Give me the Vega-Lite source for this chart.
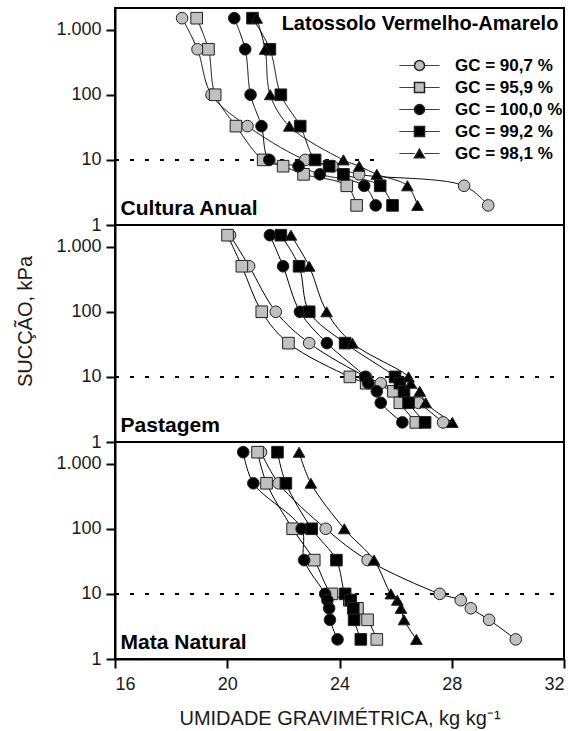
{
  "$schema": "https://vega.github.io/schema/vega-lite/v6.json",
  "padding": {"left": 14, "top": 7, "right": 5, "bottom": 0},
  "bounds": "flush",
  "config": {
    "font": "Liberation Sans",
    "view": {"stroke": "black", "strokeWidth": 2},
    "axis": {
      "grid": false,
      "domainColor": "black",
      "domainWidth": 2,
      "tickColor": "black",
      "tickWidth": 2,
      "tickSize": 9,
      "labelFontSize": 18,
      "labelColor": "#1a1a1a",
      "labelPadding": 5,
      "titleFontWeight": "normal",
      "titleFontSize": 20,
      "titleColor": "#1a1a1a"
    }
  },
  "datasets": {
    "pts": [
      {"panel": "Cultura Anual", "gc": "GC = 90,7 %", "s": 1500, "w": 18.39},
      {"panel": "Cultura Anual", "gc": "GC = 90,7 %", "s": 500, "w": 18.94},
      {"panel": "Cultura Anual", "gc": "GC = 90,7 %", "s": 100, "w": 19.44},
      {"panel": "Cultura Anual", "gc": "GC = 90,7 %", "s": 33, "w": 20.72},
      {"panel": "Cultura Anual", "gc": "GC = 90,7 %", "s": 10, "w": 22.78},
      {"panel": "Cultura Anual", "gc": "GC = 90,7 %", "s": 8, "w": 23.75},
      {"panel": "Cultura Anual", "gc": "GC = 90,7 %", "s": 6, "w": 24.70},
      {"panel": "Cultura Anual", "gc": "GC = 90,7 %", "s": 4, "w": 28.44},
      {"panel": "Cultura Anual", "gc": "GC = 90,7 %", "s": 2, "w": 29.30},
      {"panel": "Cultura Anual", "gc": "GC = 95,9 %", "s": 1500, "w": 18.91},
      {"panel": "Cultura Anual", "gc": "GC = 95,9 %", "s": 500, "w": 19.33},
      {"panel": "Cultura Anual", "gc": "GC = 95,9 %", "s": 100, "w": 19.57},
      {"panel": "Cultura Anual", "gc": "GC = 95,9 %", "s": 33, "w": 20.31},
      {"panel": "Cultura Anual", "gc": "GC = 95,9 %", "s": 10, "w": 21.28},
      {"panel": "Cultura Anual", "gc": "GC = 95,9 %", "s": 8, "w": 21.99},
      {"panel": "Cultura Anual", "gc": "GC = 95,9 %", "s": 6, "w": 22.72},
      {"panel": "Cultura Anual", "gc": "GC = 95,9 %", "s": 4, "w": 24.26},
      {"panel": "Cultura Anual", "gc": "GC = 95,9 %", "s": 2, "w": 24.61},
      {"panel": "Cultura Anual", "gc": "GC = 100,0 %", "s": 1500, "w": 20.25},
      {"panel": "Cultura Anual", "gc": "GC = 100,0 %", "s": 500, "w": 20.64},
      {"panel": "Cultura Anual", "gc": "GC = 100,0 %", "s": 100, "w": 20.83},
      {"panel": "Cultura Anual", "gc": "GC = 100,0 %", "s": 33, "w": 21.22},
      {"panel": "Cultura Anual", "gc": "GC = 100,0 %", "s": 10, "w": 21.50},
      {"panel": "Cultura Anual", "gc": "GC = 100,0 %", "s": 8, "w": 22.54},
      {"panel": "Cultura Anual", "gc": "GC = 100,0 %", "s": 6, "w": 23.30},
      {"panel": "Cultura Anual", "gc": "GC = 100,0 %", "s": 4, "w": 24.88},
      {"panel": "Cultura Anual", "gc": "GC = 100,0 %", "s": 2, "w": 25.29},
      {"panel": "Cultura Anual", "gc": "GC = 99,2 %", "s": 1500, "w": 20.90},
      {"panel": "Cultura Anual", "gc": "GC = 99,2 %", "s": 500, "w": 21.52},
      {"panel": "Cultura Anual", "gc": "GC = 99,2 %", "s": 100, "w": 21.91},
      {"panel": "Cultura Anual", "gc": "GC = 99,2 %", "s": 33, "w": 22.60},
      {"panel": "Cultura Anual", "gc": "GC = 99,2 %", "s": 10, "w": 23.13},
      {"panel": "Cultura Anual", "gc": "GC = 99,2 %", "s": 8, "w": 23.63},
      {"panel": "Cultura Anual", "gc": "GC = 99,2 %", "s": 6, "w": 24.14},
      {"panel": "Cultura Anual", "gc": "GC = 99,2 %", "s": 4, "w": 25.45},
      {"panel": "Cultura Anual", "gc": "GC = 99,2 %", "s": 2, "w": 25.89},
      {"panel": "Cultura Anual", "gc": "GC = 98,1 %", "s": 1500, "w": 21.05},
      {"panel": "Cultura Anual", "gc": "GC = 98,1 %", "s": 500, "w": 21.35},
      {"panel": "Cultura Anual", "gc": "GC = 98,1 %", "s": 100, "w": 21.53},
      {"panel": "Cultura Anual", "gc": "GC = 98,1 %", "s": 33, "w": 22.21},
      {"panel": "Cultura Anual", "gc": "GC = 98,1 %", "s": 10, "w": 24.14},
      {"panel": "Cultura Anual", "gc": "GC = 98,1 %", "s": 8, "w": 24.70},
      {"panel": "Cultura Anual", "gc": "GC = 98,1 %", "s": 6, "w": 25.33},
      {"panel": "Cultura Anual", "gc": "GC = 98,1 %", "s": 4, "w": 26.42},
      {"panel": "Cultura Anual", "gc": "GC = 98,1 %", "s": 2, "w": 26.78},

      {"panel": "Pastagem", "gc": "GC = 90,7 %", "s": 1500, "w": 20.10},
      {"panel": "Pastagem", "gc": "GC = 90,7 %", "s": 500, "w": 20.78},
      {"panel": "Pastagem", "gc": "GC = 90,7 %", "s": 100, "w": 21.73},
      {"panel": "Pastagem", "gc": "GC = 90,7 %", "s": 33, "w": 22.92},
      {"panel": "Pastagem", "gc": "GC = 90,7 %", "s": 10, "w": 24.95},
      {"panel": "Pastagem", "gc": "GC = 90,7 %", "s": 8, "w": 25.47},
      {"panel": "Pastagem", "gc": "GC = 90,7 %", "s": 6, "w": 26.10},
      {"panel": "Pastagem", "gc": "GC = 90,7 %", "s": 4, "w": 26.81},
      {"panel": "Pastagem", "gc": "GC = 90,7 %", "s": 2, "w": 27.69},
      {"panel": "Pastagem", "gc": "GC = 95,9 %", "s": 1500, "w": 20.01},
      {"panel": "Pastagem", "gc": "GC = 95,9 %", "s": 500, "w": 20.52},
      {"panel": "Pastagem", "gc": "GC = 95,9 %", "s": 100, "w": 21.23},
      {"panel": "Pastagem", "gc": "GC = 95,9 %", "s": 33, "w": 22.18},
      {"panel": "Pastagem", "gc": "GC = 95,9 %", "s": 10, "w": 24.37},
      {"panel": "Pastagem", "gc": "GC = 95,9 %", "s": 8, "w": 24.95},
      {"panel": "Pastagem", "gc": "GC = 95,9 %", "s": 6, "w": 25.92},
      {"panel": "Pastagem", "gc": "GC = 95,9 %", "s": 4, "w": 26.15},
      {"panel": "Pastagem", "gc": "GC = 95,9 %", "s": 2, "w": 26.72},
      {"panel": "Pastagem", "gc": "GC = 100,0 %", "s": 1500, "w": 21.52},
      {"panel": "Pastagem", "gc": "GC = 100,0 %", "s": 500, "w": 21.99},
      {"panel": "Pastagem", "gc": "GC = 100,0 %", "s": 100, "w": 22.59},
      {"panel": "Pastagem", "gc": "GC = 100,0 %", "s": 33, "w": 23.55},
      {"panel": "Pastagem", "gc": "GC = 100,0 %", "s": 10, "w": 24.91},
      {"panel": "Pastagem", "gc": "GC = 100,0 %", "s": 8, "w": 25.03},
      {"panel": "Pastagem", "gc": "GC = 100,0 %", "s": 6, "w": 25.33},
      {"panel": "Pastagem", "gc": "GC = 100,0 %", "s": 4, "w": 25.47},
      {"panel": "Pastagem", "gc": "GC = 100,0 %", "s": 2, "w": 26.24},
      {"panel": "Pastagem", "gc": "GC = 99,2 %", "s": 1500, "w": 21.91},
      {"panel": "Pastagem", "gc": "GC = 99,2 %", "s": 500, "w": 22.56},
      {"panel": "Pastagem", "gc": "GC = 99,2 %", "s": 100, "w": 22.92},
      {"panel": "Pastagem", "gc": "GC = 99,2 %", "s": 33, "w": 24.20},
      {"panel": "Pastagem", "gc": "GC = 99,2 %", "s": 10, "w": 25.98},
      {"panel": "Pastagem", "gc": "GC = 99,2 %", "s": 8, "w": 26.15},
      {"panel": "Pastagem", "gc": "GC = 99,2 %", "s": 6, "w": 26.30},
      {"panel": "Pastagem", "gc": "GC = 99,2 %", "s": 4, "w": 26.46},
      {"panel": "Pastagem", "gc": "GC = 99,2 %", "s": 2, "w": 27.05},
      {"panel": "Pastagem", "gc": "GC = 98,1 %", "s": 1500, "w": 22.27},
      {"panel": "Pastagem", "gc": "GC = 98,1 %", "s": 500, "w": 22.92},
      {"panel": "Pastagem", "gc": "GC = 98,1 %", "s": 100, "w": 23.54},
      {"panel": "Pastagem", "gc": "GC = 98,1 %", "s": 33, "w": 24.46},
      {"panel": "Pastagem", "gc": "GC = 98,1 %", "s": 10, "w": 26.46},
      {"panel": "Pastagem", "gc": "GC = 98,1 %", "s": 8, "w": 26.54},
      {"panel": "Pastagem", "gc": "GC = 98,1 %", "s": 6, "w": 26.86},
      {"panel": "Pastagem", "gc": "GC = 98,1 %", "s": 4, "w": 27.07},
      {"panel": "Pastagem", "gc": "GC = 98,1 %", "s": 2, "w": 28.02},

      {"panel": "Mata Natural", "gc": "GC = 90,7 %", "s": 1500, "w": 21.20},
      {"panel": "Mata Natural", "gc": "GC = 90,7 %", "s": 500, "w": 21.83},
      {"panel": "Mata Natural", "gc": "GC = 90,7 %", "s": 100, "w": 23.51},
      {"panel": "Mata Natural", "gc": "GC = 90,7 %", "s": 33, "w": 25.00},
      {"panel": "Mata Natural", "gc": "GC = 90,7 %", "s": 10, "w": 27.57},
      {"panel": "Mata Natural", "gc": "GC = 90,7 %", "s": 8, "w": 28.32},
      {"panel": "Mata Natural", "gc": "GC = 90,7 %", "s": 6, "w": 28.68},
      {"panel": "Mata Natural", "gc": "GC = 90,7 %", "s": 4, "w": 29.33},
      {"panel": "Mata Natural", "gc": "GC = 90,7 %", "s": 2, "w": 30.28},
      {"panel": "Mata Natural", "gc": "GC = 95,9 %", "s": 1500, "w": 21.08},
      {"panel": "Mata Natural", "gc": "GC = 95,9 %", "s": 500, "w": 21.40},
      {"panel": "Mata Natural", "gc": "GC = 95,9 %", "s": 100, "w": 22.33},
      {"panel": "Mata Natural", "gc": "GC = 95,9 %", "s": 33, "w": 23.10},
      {"panel": "Mata Natural", "gc": "GC = 95,9 %", "s": 10, "w": 23.73},
      {"panel": "Mata Natural", "gc": "GC = 95,9 %", "s": 8, "w": 24.35},
      {"panel": "Mata Natural", "gc": "GC = 95,9 %", "s": 6, "w": 24.64},
      {"panel": "Mata Natural", "gc": "GC = 95,9 %", "s": 4, "w": 25.00},
      {"panel": "Mata Natural", "gc": "GC = 95,9 %", "s": 2, "w": 25.33},
      {"panel": "Mata Natural", "gc": "GC = 100,0 %", "s": 1500, "w": 20.57},
      {"panel": "Mata Natural", "gc": "GC = 100,0 %", "s": 500, "w": 20.93},
      {"panel": "Mata Natural", "gc": "GC = 100,0 %", "s": 100, "w": 22.65},
      {"panel": "Mata Natural", "gc": "GC = 100,0 %", "s": 33, "w": 22.74},
      {"panel": "Mata Natural", "gc": "GC = 100,0 %", "s": 10, "w": 23.49},
      {"panel": "Mata Natural", "gc": "GC = 100,0 %", "s": 8, "w": 23.57},
      {"panel": "Mata Natural", "gc": "GC = 100,0 %", "s": 6, "w": 23.63},
      {"panel": "Mata Natural", "gc": "GC = 100,0 %", "s": 4, "w": 23.66},
      {"panel": "Mata Natural", "gc": "GC = 100,0 %", "s": 2, "w": 23.93},
      {"panel": "Mata Natural", "gc": "GC = 99,2 %", "s": 1500, "w": 21.79},
      {"panel": "Mata Natural", "gc": "GC = 99,2 %", "s": 500, "w": 22.09},
      {"panel": "Mata Natural", "gc": "GC = 99,2 %", "s": 100, "w": 23.01},
      {"panel": "Mata Natural", "gc": "GC = 99,2 %", "s": 33, "w": 23.89},
      {"panel": "Mata Natural", "gc": "GC = 99,2 %", "s": 10, "w": 24.20},
      {"panel": "Mata Natural", "gc": "GC = 99,2 %", "s": 8, "w": 24.40},
      {"panel": "Mata Natural", "gc": "GC = 99,2 %", "s": 6, "w": 24.49},
      {"panel": "Mata Natural", "gc": "GC = 99,2 %", "s": 4, "w": 24.52},
      {"panel": "Mata Natural", "gc": "GC = 99,2 %", "s": 2, "w": 24.76},
      {"panel": "Mata Natural", "gc": "GC = 98,1 %", "s": 1500, "w": 22.56},
      {"panel": "Mata Natural", "gc": "GC = 98,1 %", "s": 500, "w": 22.98},
      {"panel": "Mata Natural", "gc": "GC = 98,1 %", "s": 100, "w": 24.17},
      {"panel": "Mata Natural", "gc": "GC = 98,1 %", "s": 33, "w": 25.23},
      {"panel": "Mata Natural", "gc": "GC = 98,1 %", "s": 10, "w": 25.83},
      {"panel": "Mata Natural", "gc": "GC = 98,1 %", "s": 8, "w": 26.06},
      {"panel": "Mata Natural", "gc": "GC = 98,1 %", "s": 6, "w": 26.19},
      {"panel": "Mata Natural", "gc": "GC = 98,1 %", "s": 4, "w": 26.30},
      {"panel": "Mata Natural", "gc": "GC = 98,1 %", "s": 2, "w": 26.74}
    ]
  },
  "spacing": 0,
  "resolve": {"scale": {"color": "independent", "shape": "independent"}, "legend": {"color": "independent", "shape": "independent"}},
  "vconcat": [
    {
      "width": 449,
      "height": 217,
      "layer": [
        {
          "data": {"values": [{}]},
          "mark": {"type": "rule", "strokeDash": [4, 11], "strokeWidth": 2, "color": "black"},
          "encoding": {
            "x": {"datum": 16, "type": "quantitative", "scale": {"domain": [16, 32], "nice": false, "zero": false}, "axis": null},
            "x2": {"datum": 25.3},
            "y": {"datum": 10, "type": "quantitative", "scale": {"type": "log", "domain": [1, 2150], "nice": false}}
          }
        },
        {
          "data": {"name": "pts"},
          "transform": [{"filter": "datum.panel == 'Cultura Anual'"}],
          "mark": {"type": "line", "interpolate": "catmull-rom", "color": "black", "strokeWidth": 1},
          "encoding": {
            "x": {"field": "w", "type": "quantitative"},
            "y": {"field": "s", "type": "quantitative"},
            "detail": {"field": "gc"},
            "order": {"field": "s", "type": "quantitative"},
            "strokeDash": {
              "field": "gc", "type": "nominal",
              "scale": {"domain": ["GC = 98,1 %", "GC = 99,2 %", "GC = 100,0 %", "GC = 95,9 %", "GC = 90,7 %"], "range": [[1, 0], [1, 0], [1, 0], [1, 0], [1, 0]]},
              "legend": {
                "title": null, "orient": "none", "legendX": 296, "legendY": 49, "padding": 0,
                "values": ["GC = 90,7 %", "GC = 95,9 %", "GC = 100,0 %", "GC = 99,2 %", "GC = 98,1 %"],
                "labelFontSize": 17, "labelFontWeight": "bold", "labelOffset": 27, "labelOpacity": 0,
                "symbolSize": 100, "rowPadding": 4, "symbolType": "M-4,0H-1M1,0H4",
                "symbolStrokeColor": "black", "symbolStrokeWidth": 1
              }
            }
          }
        },
        {
          "data": {"name": "pts"},
          "transform": [{"filter": "datum.panel == 'Cultura Anual'"}],
          "mark": {"type": "point", "filled": true, "size": 135, "stroke": "#222", "strokeWidth": 1, "opacity": 1},
          "encoding": {
            "x": {"field": "w", "type": "quantitative"},
            "y": {"field": "s", "type": "quantitative", "title": null, "axis": {"values": [1, 10, 100, 1000], "labelExpr": "datum.value >= 1000 ? '1.000' : format(datum.value, 'd')"}},
            "color": {
              "field": "gc", "type": "nominal",
              "scale": {"domain": ["GC = 90,7 %", "GC = 95,9 %", "GC = 100,0 %", "GC = 99,2 %", "GC = 98,1 %"], "range": ["#c0c0c0", "#c0c0c0", "#000000", "#000000", "#000000"]},
              "legend": {
                "title": null, "orient": "none", "legendX": 296, "legendY": 49, "padding": 0,
                "labelFontSize": 17, "labelFontWeight": "bold", "labelColor": "black", "labelOffset": 27,
                "symbolSize": 100, "rowPadding": 4,
                "encode": {"symbols": {"stroke": {"value": "black"}, "strokeWidth": {"value": 1}}}
              }
            },
            "shape": {
              "field": "gc", "type": "nominal",
              "scale": {"domain": ["GC = 90,7 %", "GC = 95,9 %", "GC = 100,0 %", "GC = 99,2 %", "GC = 98,1 %"], "range": ["circle", "square", "circle", "square", "triangle-up"]},
              "legend": {
                "title": null, "orient": "none", "legendX": 296, "legendY": 49, "padding": 0,
                "labelFontSize": 17, "labelFontWeight": "bold", "labelColor": "black", "labelOffset": 27,
                "symbolSize": 100, "rowPadding": 4,
                "encode": {"symbols": {"stroke": {"value": "black"}, "strokeWidth": {"value": 1}}}
              }
            }
          }
        },
        {
          "data": {"values": [{}]},
          "mark": {"type": "text", "text": "Cultura Anual", "align": "left", "baseline": "alphabetic", "fontSize": 21, "fontWeight": "bold", "color": "black"},
          "encoding": {"x": {"datum": 16.2, "type": "quantitative"}, "y": {"datum": 1.42, "type": "quantitative"}}
        },
        {
          "data": {"values": [{}]},
          "mark": {"type": "text", "text": "Latossolo Vermelho-Amarelo", "align": "right", "baseline": "alphabetic", "fontSize": 20, "fontWeight": "bold", "color": "black"},
          "encoding": {"x": {"datum": 31.8, "type": "quantitative"}, "y": {"datum": 1000, "type": "quantitative"}}
        }
      ]
    },
    {
      "width": 449,
      "height": 217,
      "layer": [
        {
          "data": {"values": [{}]},
          "mark": {"type": "rule", "strokeDash": [4, 11], "strokeWidth": 2, "color": "black"},
          "encoding": {
            "x": {"datum": 16, "type": "quantitative", "scale": {"domain": [16, 32], "nice": false, "zero": false}, "axis": null},
            "x2": {"datum": 32},
            "y": {"datum": 10, "type": "quantitative", "scale": {"type": "log", "domain": [1, 2150], "nice": false}}
          }
        },
        {
          "data": {"name": "pts"},
          "transform": [{"filter": "datum.panel == 'Pastagem'"}],
          "mark": {"type": "line", "interpolate": "catmull-rom", "color": "black", "strokeWidth": 1},
          "encoding": {
            "x": {"field": "w", "type": "quantitative"},
            "y": {"field": "s", "type": "quantitative"},
            "detail": {"field": "gc"},
            "order": {"field": "s", "type": "quantitative"}
          }
        },
        {
          "data": {"name": "pts"},
          "transform": [{"filter": "datum.panel == 'Pastagem'"}],
          "mark": {"type": "point", "filled": true, "size": 135, "stroke": "#222", "strokeWidth": 1, "opacity": 1},
          "encoding": {
            "x": {"field": "w", "type": "quantitative"},
            "y": {"field": "s", "type": "quantitative", "title": "SUCÇÃO, kPa", "axis": {"values": [1, 10, 100, 1000], "titlePadding": 20, "titleY": 96, "labelExpr": "datum.value >= 1000 ? '1.000' : format(datum.value, 'd')"}},
            "color": {
              "field": "gc", "type": "nominal", "legend": null,
              "scale": {"domain": ["GC = 90,7 %", "GC = 95,9 %", "GC = 100,0 %", "GC = 99,2 %", "GC = 98,1 %"], "range": ["#c0c0c0", "#c0c0c0", "#000000", "#000000", "#000000"]}
            },
            "shape": {
              "field": "gc", "type": "nominal", "legend": null,
              "scale": {"domain": ["GC = 90,7 %", "GC = 95,9 %", "GC = 100,0 %", "GC = 99,2 %", "GC = 98,1 %"], "range": ["circle", "square", "circle", "square", "triangle-up"]}
            }
          }
        },
        {
          "data": {"values": [{}]},
          "mark": {"type": "text", "text": "Pastagem", "align": "left", "baseline": "alphabetic", "fontSize": 21, "fontWeight": "bold", "color": "black"},
          "encoding": {"x": {"datum": 16.2, "type": "quantitative"}, "y": {"datum": 1.42, "type": "quantitative"}}
        }
      ]
    },
    {
      "width": 449,
      "height": 217,
      "layer": [
        {
          "data": {"values": [{}]},
          "mark": {"type": "rule", "strokeDash": [4, 11], "strokeWidth": 2, "color": "black"},
          "encoding": {
            "x": {"datum": 16, "type": "quantitative", "scale": {"domain": [16, 32], "nice": false, "zero": false}, "axis": {"values": [16, 20, 24, 28, 32], "title": "UMIDADE GRAVIMÉTRICA, kg kg⁻¹", "labelPadding": 7, "titlePadding": 15}},
            "x2": {"datum": 32},
            "y": {"datum": 10, "type": "quantitative", "scale": {"type": "log", "domain": [1, 2150], "nice": false}}
          }
        },
        {
          "data": {"name": "pts"},
          "transform": [{"filter": "datum.panel == 'Mata Natural'"}],
          "mark": {"type": "line", "interpolate": "catmull-rom", "color": "black", "strokeWidth": 1},
          "encoding": {
            "x": {"field": "w", "type": "quantitative"},
            "y": {"field": "s", "type": "quantitative"},
            "detail": {"field": "gc"},
            "order": {"field": "s", "type": "quantitative"}
          }
        },
        {
          "data": {"name": "pts"},
          "transform": [{"filter": "datum.panel == 'Mata Natural'"}],
          "mark": {"type": "point", "filled": true, "size": 135, "stroke": "#222", "strokeWidth": 1, "opacity": 1},
          "encoding": {
            "x": {"field": "w", "type": "quantitative"},
            "y": {"field": "s", "type": "quantitative", "title": null, "axis": {"values": [1, 10, 100, 1000], "labelExpr": "datum.value >= 1000 ? '1.000' : format(datum.value, 'd')"}},
            "color": {
              "field": "gc", "type": "nominal", "legend": null,
              "scale": {"domain": ["GC = 90,7 %", "GC = 95,9 %", "GC = 100,0 %", "GC = 99,2 %", "GC = 98,1 %"], "range": ["#c0c0c0", "#c0c0c0", "#000000", "#000000", "#000000"]}
            },
            "shape": {
              "field": "gc", "type": "nominal", "legend": null,
              "scale": {"domain": ["GC = 90,7 %", "GC = 95,9 %", "GC = 100,0 %", "GC = 99,2 %", "GC = 98,1 %"], "range": ["circle", "square", "circle", "square", "triangle-up"]}
            }
          }
        },
        {
          "data": {"values": [{}]},
          "mark": {"type": "text", "text": "Mata Natural", "align": "left", "baseline": "alphabetic", "fontSize": 21, "fontWeight": "bold", "color": "black"},
          "encoding": {"x": {"datum": 16.2, "type": "quantitative"}, "y": {"datum": 1.42, "type": "quantitative"}}
        }
      ]
    }
  ]
}
